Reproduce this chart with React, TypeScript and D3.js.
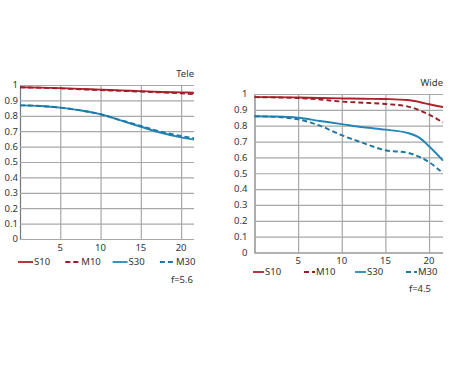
import React, { useEffect, useRef } from 'react'
import { axisBottom, axisLeft, curveMonotoneX, line, scaleLinear, select } from 'd3'

const teleX = [0, 2.5, 5, 7.5, 10, 12.5, 15, 17.5, 20, 21.6]
const teleS10 = [0.985, 0.983, 0.98, 0.975, 0.97, 0.965, 0.96, 0.955, 0.952, 0.95]
const teleM10 = [0.985, 0.982, 0.978, 0.972, 0.967, 0.962, 0.957, 0.952, 0.946, 0.94]
const teleS30 = [0.868, 0.864, 0.853, 0.835, 0.81, 0.77, 0.729, 0.69, 0.66, 0.645]
const teleM30 = [0.868, 0.864, 0.853, 0.835, 0.81, 0.772, 0.734, 0.697, 0.669, 0.655]

const wideX = [0, 2.5, 5, 7.5, 10, 12.5, 15, 17.5, 19, 20, 21.6]
const wideS10 = [0.98, 0.98, 0.978, 0.975, 0.972, 0.97, 0.968, 0.962, 0.948, 0.935, 0.918]
const wideM10 = [0.98, 0.978, 0.975, 0.965, 0.952, 0.945, 0.937, 0.922, 0.895, 0.87, 0.82]
const wideS30 = [0.86, 0.858, 0.85, 0.83, 0.81, 0.79, 0.775, 0.755, 0.72, 0.67, 0.58]
const wideM30 = [0.86, 0.855, 0.84, 0.8, 0.74, 0.69, 0.645, 0.63, 0.6, 0.57, 0.5]

const xTicks = [5, 10, 15, 20]
const yTicks = [0, 0.1, 0.2, 0.3, 0.4, 0.5, 0.6, 0.7, 0.8, 0.9, 1]
const seriesNames = ['S10', 'M10', 'S30', 'M30']

const FONT = '"Noto Sans", sans-serif'
const styles = [
  { color: '#b2202c', dash: null },
  { color: '#9a1f2a', dash: '5,3' },
  { color: '#2486b6', dash: null },
  { color: '#1f77a3', dash: '5,3' },
]

const drawPanel = (svg, opt) => {
  const { left, right, top, bottom, title, fnum, xs, series, xLabDy, legendX, legendY, legendStep, legendLen, fX, fY, yLabGap, font } = opt
  const x = scaleLinear().domain([0, 21.6]).range([left, right])
  const y = scaleLinear().domain([0, 1]).range([bottom, top])
  const g = svg.append('g').style('font-family', FONT)

  // grid
  g.append('g')
    .attr('transform', `translate(0, ${bottom})`)
    .call(axisBottom(x).tickValues(xTicks).tickSize(-(bottom - top)).tickFormat(() => ''))
    .call((a) => a.select('.domain').remove())
    .call((a) => a.selectAll('line').attr('stroke', '#a8a8a8').attr('stroke-width', 1.2))
  g.append('g')
    .attr('transform', `translate(${left}, 0)`)
    .call(axisLeft(y).tickValues(yTicks).tickSize(-(right - left)).tickFormat(() => ''))
    .call((a) => a.select('.domain').attr('stroke', '#777').attr('stroke-width', 1.2))
    .call((a) => a.selectAll('line').attr('stroke', '#a8a8a8').attr('stroke-width', 1.2))

  // tick labels
  g.selectAll('.ylab')
    .data(yTicks)
    .enter()
    .append('text')
    .attr('x', left - yLabGap)
    .attr('y', (d) => y(d))
    .attr('dy', '0.35em')
    .attr('text-anchor', 'end')
    .attr('font-size', font)
    .attr('fill', '#333')
    .text((d) => String(d))
  g.selectAll('.xlab')
    .data(xTicks)
    .enter()
    .append('text')
    .attr('x', (d) => x(d))
    .attr('y', bottom + xLabDy)
    .attr('text-anchor', 'middle')
    .attr('font-size', font)
    .attr('fill', '#333')
    .text((d) => d)

  const gen = line()
    .x((d) => x(d[0]))
    .y((d) => y(d[1]))
    .curve(curveMonotoneX)

  series.forEach((vals, i) => {
    g.append('path')
      .datum(vals.map((v, j) => [xs[j], v]))
      .attr('fill', 'none')
      .attr('stroke', styles[i].color)
      .attr('stroke-width', 1.9)
      .attr('stroke-dasharray', styles[i].dash)
      .attr('d', gen)
  })

  g.append('text')
    .attr('x', right)
    .attr('y', top - 8)
    .attr('text-anchor', 'end')
    .attr('font-size', font)
    .attr('fill', '#333')
    .text(title)

  seriesNames.forEach((name, i) => {
    const lx = legendX + i * legendStep
    g.append('line')
      .attr('x1', lx)
      .attr('x2', lx + legendLen)
      .attr('y1', legendY)
      .attr('y2', legendY)
      .attr('stroke', styles[i].color)
      .attr('stroke-width', 1.8)
      .attr('stroke-dasharray', styles[i].dash)
    g.append('text')
      .attr('x', lx + legendLen + 1)
      .attr('y', legendY)
      .attr('dy', '0.35em')
      .attr('font-size', font)
      .attr('fill', '#333')
      .text(name)
  })

  g.append('text')
    .attr('x', fX)
    .attr('y', fY)
    .attr('dy', '0.35em')
    .attr('text-anchor', 'end')
    .attr('font-size', font)
    .attr('fill', '#333')
    .text(fnum)
}

const App = () => {
  const ref = useRef()

  useEffect(() => {
    const svg = select(ref.current)
    svg.selectAll('*').remove()
    svg.append('rect').attr('width', 450).attr('height', 369).attr('fill', '#fff')
    drawPanel(svg, {
      left: 20, right: 194, top: 85, bottom: 239,
      title: 'Tele', fnum: 'f=5.6', xs: teleX,
      series: [teleS10, teleM10, teleS30, teleM30],
      xLabDy: 12, legendX: 18, legendY: 262, legendStep: 47.3, legendLen: 15,
      fX: 193, fY: 280, yLabGap: 2, font: 9.5,
    })
    drawPanel(svg, {
      left: 254.5, right: 443, top: 94, bottom: 252.5,
      title: 'Wide', fnum: 'f=4.5', xs: wideX,
      series: [wideS10, wideM10, wideS30, wideM30],
      xLabDy: 11, legendX: 253, legendY: 272, legendStep: 51, legendLen: 11,
      fX: 431, fY: 289, yLabGap: 7, font: 9.5,
    })
  }, [])

  return (
    <svg
      ref={ref}
      width={450}
      height={369}
      style={{ position: 'absolute', left: 0, top: 0, display: 'block' }}
    ></svg>
  )
}

export default App
